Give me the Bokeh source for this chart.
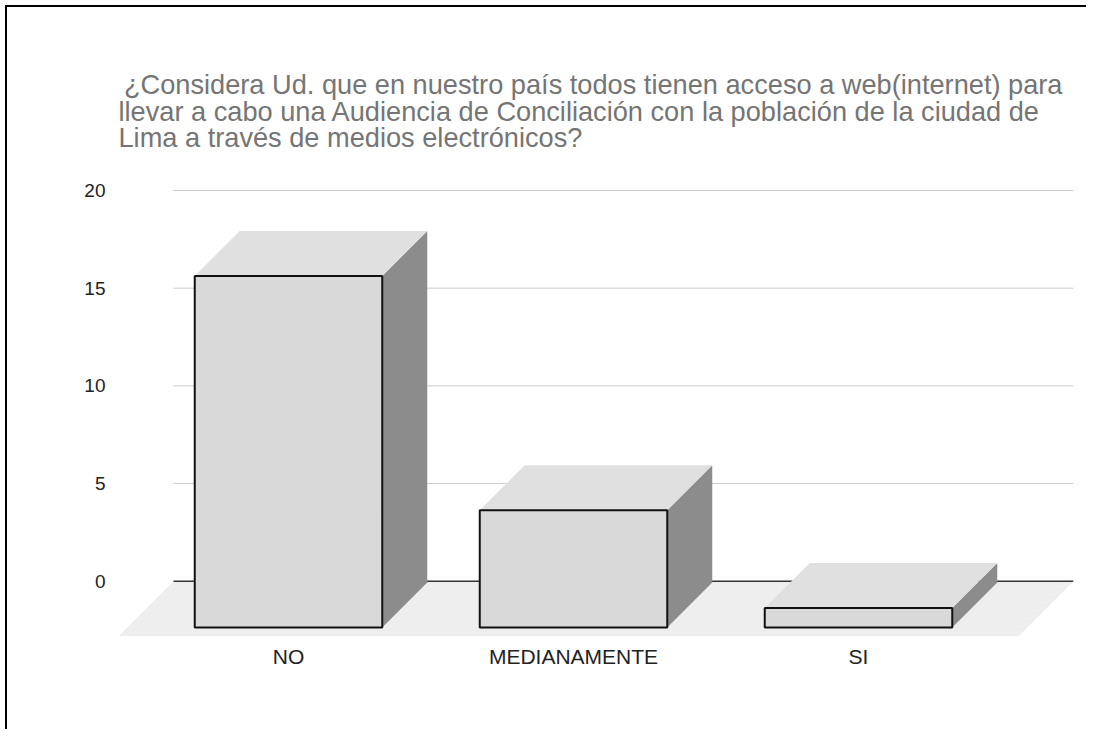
from bokeh.plotting import figure
from bokeh.models import Range1d, FixedTicker, Title, InlineStyleSheet
from bokeh.embed import file_html
from bokeh.resources import INLINE

# ---- data ----
categories = ["NO", "MEDIANAMENTE", "SI"]
counts = [18, 6, 1]
y_ticks = [0, 5, 10, 15, 20]
title_lines = [
    "\u2009¿Considera Ud. que en nuestro país todos tienen acceso a web(internet) para",
    "llevar a cabo una Audiencia de Conciliación con la población de la ciudad de",
    "Lima a través de medios electrónicos?",
]

# ---- geometry / style constants ----
PX_PER_CAT = 285.0      # pixels between category centres
PX_PER_UNIT = 19.535    # pixels per value unit
bar_half = 93.75 / PX_PER_CAT
bar_dx = 45 / PX_PER_CAT
bar_dy = 45 / PX_PER_UNIT
bar_base = -46.3 / PX_PER_UNIT
floor_dx = 55 / PX_PER_CAT
floor_dy = 55 / PX_PER_UNIT
floor_pad_left = 170 / PX_PER_CAT
floor_pad_right = 160 / PX_PER_CAT

W, H = 1081, 724
B_LEFT, B_RIGHT, B_TOP, B_BOTTOM = 111, 15, 147, 95

x_start = -floor_pad_left
x_end = (len(categories) - 1) + floor_pad_right + floor_dx
y_start = -2.83
frame_h = H - B_TOP - B_BOTTOM
y_end = y_start + frame_h / PX_PER_UNIT

FONT = "Liberation Sans"

border_css = InlineStyleSheet(css=":host { margin-left: 5px; margin-top: 5px; "
                                  "border-left: 2px solid #000; border-top: 2px solid #000; }")

p = figure(width=W, height=H,
           x_range=Range1d(x_start, x_end), y_range=Range1d(y_start, y_end),
           output_backend="svg", toolbar_location=None,
           min_border_left=B_LEFT, min_border_right=B_RIGHT,
           min_border_top=B_TOP, min_border_bottom=B_BOTTOM)
p.stylesheets = [border_css]
p.outline_line_color = None
p.grid.visible = False
p.background_fill_color = "white"
p.border_fill_color = "white"

# title
p.title = Title(text="\n".join(title_lines), align="left",
                text_font=FONT, text_font_size="27.2px", text_font_style="normal",
                text_color="#757575", standoff=2, text_line_height=0.86)

# floor
fl_x0 = x_start
fl_x1 = (len(categories) - 1) + floor_pad_right
p.patch([fl_x0, fl_x1, fl_x1 + floor_dx, fl_x0 + floor_dx],
        [-floor_dy, -floor_dy, 0, 0], fill_color="#eeeeee", line_color=None)

# gridlines on back wall
gx0 = x_start + floor_dx
p.segment(x0=[gx0] * (len(y_ticks) - 1), x1=[x_end] * (len(y_ticks) - 1),
          y0=y_ticks[1:], y1=y_ticks[1:], line_color="#cccccc", line_width=1)
p.segment(x0=[gx0], x1=[x_end], y0=[0], y1=[0], line_color="#333333", line_width=1.5)

# 3D bars
side_xs, side_ys, top_xs, top_ys, front_xs, front_ys = [], [], [], [], [], []
for i, v in enumerate(counts):
    xl = i - bar_half
    xr = i + bar_half
    yb = bar_base
    yt = bar_base + v
    side_xs.append([xr, xr + bar_dx, xr + bar_dx, xr])
    side_ys.append([yb, yb + bar_dy, yt + bar_dy, yt])
    top_xs.append([xl, xr, xr + bar_dx, xl + bar_dx])
    top_ys.append([yt, yt, yt + bar_dy, yt + bar_dy])
    front_xs.append([xl, xr, xr, xl])
    front_ys.append([yb, yb, yt, yt])

p.patches(side_xs, side_ys, fill_color="#8c8c8c", line_color=None)
p.patches(top_xs, top_ys, fill_color="#e0e0e0", line_color=None)
p.patches(front_xs, front_ys, fill_color="#d9d9d9", line_color="#111111", line_width=2)

# axes
xa = p.xaxis[0]
xa.ticker = FixedTicker(ticks=list(range(len(categories))))
xa.major_label_overrides = {i: c for i, c in enumerate(categories)}
xa.axis_line_color = None
xa.major_tick_line_color = None
xa.minor_tick_line_color = None
xa.major_tick_out = 0
xa.major_tick_in = 0
xa.major_label_standoff = 8
xa.major_label_text_font = FONT
xa.major_label_text_font_size = "21px"
xa.major_label_text_color = "#222222"

ya = p.yaxis[0]
ya.ticker = FixedTicker(ticks=y_ticks)
ya.axis_line_color = None
ya.major_tick_line_color = None
ya.minor_tick_line_color = None
ya.major_tick_out = 0
ya.major_tick_in = 0
ya.major_label_standoff = 13
ya.major_label_text_font = FONT
ya.major_label_text_font_size = "19px"
ya.major_label_text_color = "#222222"

open("out.html", "w").write(file_html(p, INLINE))
